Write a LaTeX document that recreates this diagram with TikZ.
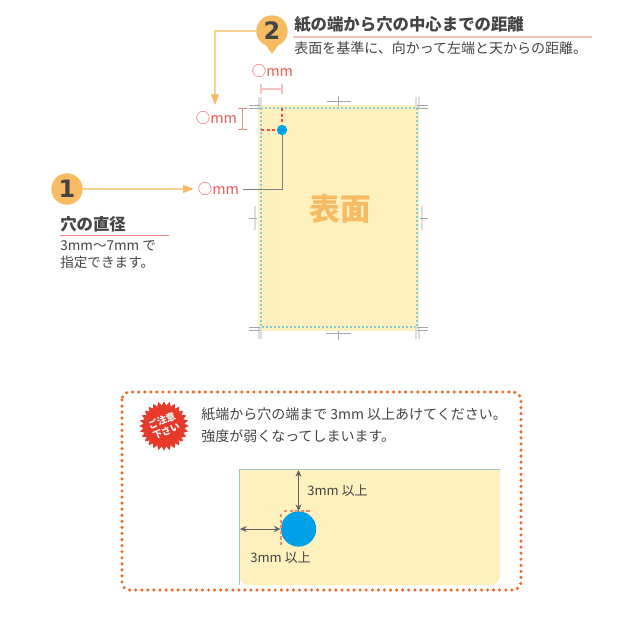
\documentclass[tikz,border=0pt]{standalone}
\usepackage{fontspec}
\setmainfont{Noto Sans CJK JP}
\newfontfamily\numf{DejaVu Sans}
\usetikzlibrary{arrows.meta,shapes.geometric}
\definecolor{cream}{HTML}{FFF1BE}
\definecolor{ora}{HTML}{F7BC63}
\definecolor{orl}{HTML}{FAD391}
\definecolor{ink}{HTML}{444444}
\definecolor{redl}{HTML}{EE5A55}
\definecolor{pinkl}{HTML}{F6C3BC}
\definecolor{blued}{HTML}{00A0E9}
\definecolor{teald}{HTML}{84CCD2}
\definecolor{dotor}{HTML}{EE6A2A}
\definecolor{redd1}{HTML}{F04A4A}
\definecolor{redd2}{HTML}{F08A70}
\definecolor{badgec}{HTML}{E83A2A}
\definecolor{edgec}{HTML}{9CC8CC}
\tikzset{
  x=.75pt,y=-.75pt,
  txt/.style={anchor=west,inner sep=0pt,text=ink},
  sub/.style={txt,font=\fontsize{10.5}{14}\selectfont},
  small/.style={txt,font=\fontsize{10.2}{12}\selectfont},
  tiny/.style={txt,font=\fontsize{9.8}{12}\selectfont},
  head/.style={txt,font=\fontsize{12.3}{14}\selectfont\bfseries},
  mmlab/.style={inner sep=0pt,text=redl,font=\fontsize{10.8}{13}\selectfont},
  numc/.style={circle,fill=ora,minimum size=23.5pt,inner sep=0pt,text=ink,font=\numf\fontsize{18}{18}\selectfont\bfseries},
  hole/.style={circle,fill=blued,inner sep=0pt},
  conn/.style={draw=orl,line width=1pt},
  tipo/.style={-{Triangle[length=8pt,width=6pt,fill=ora,color=ora]}},
  cropd/.style={draw=black!35,line width=.5pt},
  cropl/.style={draw=black!13,line width=1.5pt},
  redd/.style={draw=redd1,line width=.85pt,dash pattern=on 2.4pt off 1.8pt},
  dim/.style={draw=pinkl,line width=.8pt},
  dima/.style={draw=ink!85,line width=.55pt,{Stealth[length=5pt,width=4.5pt]}-{Stealth[length=5pt,width=4.5pt]}},
}
\begin{document}
\begin{tikzpicture}
\useasboundingbox (0,0) rectangle (642,623);
% sheet
\fill[cream] (258,105) rectangle (419,331);
\draw[draw=teald,line width=.9pt,dash pattern=on 1.5pt off 1.5pt] (261,108) rectangle (417,327);
\node[anchor=center,inner sep=0pt,text=ora,font=\fontsize{23}{23}\selectfont\bfseries] (face) at (340,209) {表面};
% crop marks
\foreach \x/\a/\b in {258.5/97/108,416/97/108,258.5/327/339,416/327/339}{\draw[cropl] (\x,\a)--(\x,\b);}
\foreach \x/\a/\b in {261/97/108,419/97/108,261/327/339,419/327/339}{\draw[cropl] (\x,\a)--(\x,\b);}
\foreach \y in {105,108}{\draw[cropd] (249,\y)--(260,\y); \draw[cropd] (417,\y)--(428,\y);}
\foreach \y in {327.5,330.5}{\draw[cropd] (249,\y)--(260,\y); \draw[cropd] (417,\y)--(428,\y);}
\draw[cropd] (338.5,96)--(338.5,106) (327,101)--(351,101);
\draw[cropd] (338.5,331)--(338.5,340) (326,333.5)--(351,333.5);
\draw[cropl] (255,206)--(255,230); \draw[cropd] (249,218)--(257,218);
\draw[cropl] (422,206)--(422,230); \draw[cropd] (420,218)--(428,218);
% hole
\node[hole,minimum size=7.8pt] (dot) at (282,130) {};
\draw[redd] (282,108)--(dot.north);
\draw[redd] (261,130)--(dot.west);
% red dimensions
\draw[dim] (261,84)--(261,94) (282,84)--(282,94) (261,89)--(282,89);
\draw[draw=redl!75,line width=.7pt] (238,108.5)--(247,108.5) (238,129.5)--(247,129.5) (242.5,108.5)--(242.5,129.5);
\node[mmlab] (lt) at (272.5,71) {○mm};
\node[mmlab] (ll) at (216.5,118) {○mm};
\node[mmlab] (lm) at (218.5,189) {○mm};
% number 2
\fill[ora] (265,44)--(272,54)--(279,44)--cycle;
\node[numc] (c2) at (272,31) {2};
\coordinate (e2) at (215,105);
\draw[conn,tipo] (c2.west) -| (e2);
\node[head,anchor=west] (t2) at (294,25) {紙の端から穴の中心までの距離};
\draw[draw=pinkl,line width=.9pt] (293,37)--(592,37);
\node[sub] (s2) at (294,48) {表面を基準に、向かって左端と天からの距離。};
% number 1
\node[numc] (c1) at (67,189) {1};
\draw[conn,tipo] (c1.east) -- ([xshift=-3pt]lm.west);
\draw[draw=black!50,line width=.6pt] ([xshift=3pt]lm.east) -| (dot.south);
\node[head] (t1) at (60,224) {穴の直径};
\draw[draw=redl!70,line width=.7pt] (60,235.5)--(169,235.5);
\node[small] (s1a) at (60,246) {3mm〜7mm で};
\node[small] (s1b) at (60,262) {指定できます。};
% panel
\draw[dotor,line width=2.6pt,line cap=round,dash pattern=on 0pt off 4.55pt,rounded corners=6pt] (122,392) rectangle (521,590);
\node[star,star points=28,star point ratio=1.2,fill=badgec,minimum size=37pt,inner sep=0pt] (badge) at (164,426) {};
\node[rotate=22,align=center,text=white,inner sep=0pt,font=\fontsize{7}{8.6}\selectfont\bfseries] (bt) at (164,426) {ご注意\\下さい};
\node[sub] (n1) at (201,414) {紙端から穴の端まで 3mm 以上あけてください。};
\node[sub] (n2) at (201,436) {強度が弱くなってしまいます。};
% inner panel
\fill[cream] (239,469)--(500,469)[rounded corners=7pt]--(500,585)--(239,585)[sharp corners]--cycle;
\draw[draw=edgec,line width=.7pt] (239,585)--(239,469)--(500,469);
\node[hole,minimum size=26.5pt] (big) at (298.5,529) {};
\coordinate (ptop) at (298.5,470);
\coordinate (pleft) at (240,529);
\draw[dima] (ptop)--(big.north);
\draw[dima] (pleft)--(big.west);
\draw[redd,draw=redd2] (284,511)--(312,511);
\draw[redd,draw=redd2] (281,514)--(281,545);
\node[tiny] (m1) at (307,491) {3mm 以上};
\node[tiny] (m2) at (250,558) {3mm 以上};
\end{tikzpicture}
\end{document}
